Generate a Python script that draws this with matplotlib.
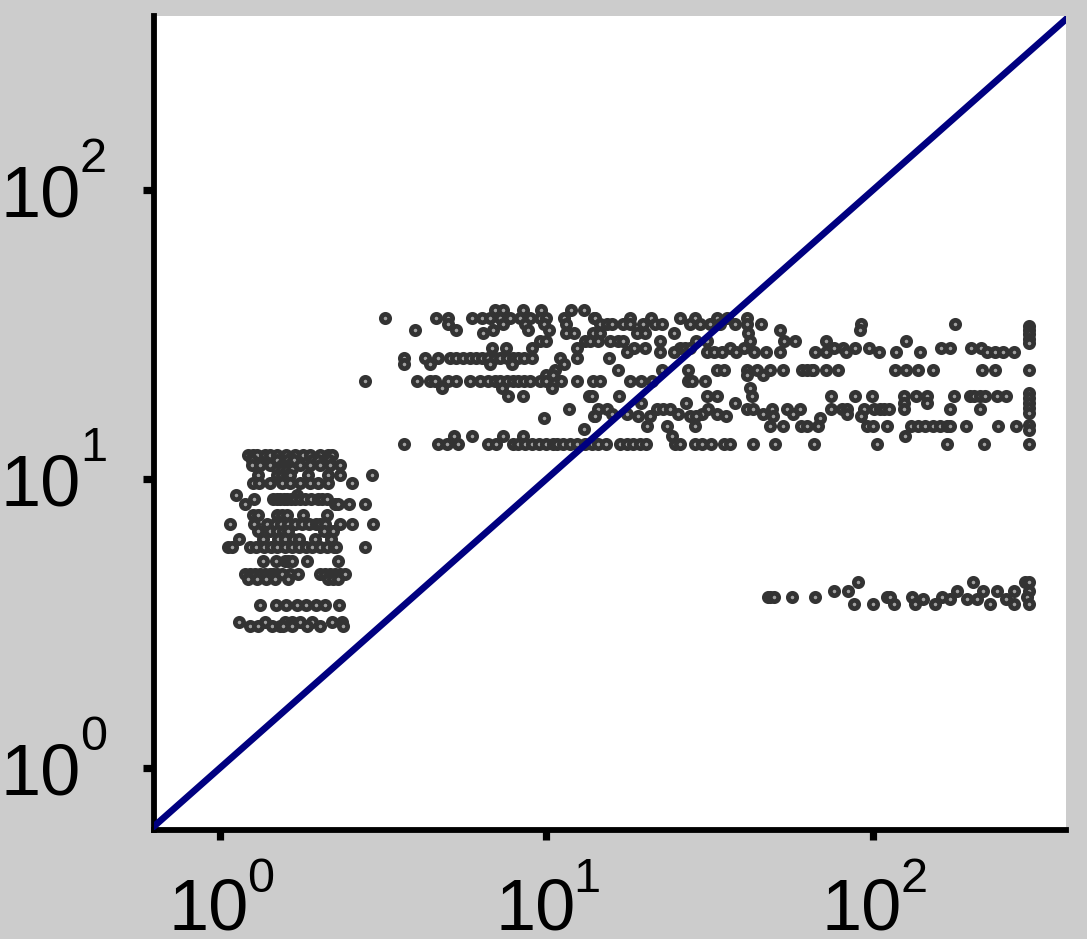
import matplotlib
matplotlib.use("Agg")
import matplotlib.pyplot as plt
from matplotlib.transforms import ScaledTranslation

plt.rcParams['font.family'] = ['Liberation Sans', 'DejaVu Sans']

diagonal = [0.6, 400]
tick_values = [1, 10, 100]
tick_base = ['10', '10', '10']
tick_exponents = ['0', '1', '2']

# low cluster: y level, then x values on that level
low_121 = [1.22, 1.26, 1.30, 1.37, 1.42, 1.49, 1.59, 1.70, 1.80, 1.89, 2.02, 2.14, 2.21]
low_116 = [1.25, 1.50, 1.60, 1.68, 1.92, 2.00, 2.15]
low_112 = [1.25, 1.33, 1.42, 1.55, 1.62, 1.76, 1.89, 2.02, 2.17, 2.33]
low_108 = [1.50, 1.55, 1.60, 1.66]
low_103 = [1.31, 1.50, 1.55, 1.60, 1.64, 1.86, 2.14, 2.33, 2.92]
low_97 = [1.26, 1.32, 1.42, 1.55, 1.64, 1.76, 1.89, 1.99, 2.14, 2.53]
low_88 = [1.12, 1.72]
low_85 = [1.27, 1.45, 1.49, 1.53, 1.57, 1.60, 1.65, 1.70, 1.76, 1.82, 1.90, 2.00, 2.06, 2.12]
low_82 = [1.19, 2.25, 2.30, 2.48, 2.78]
low_75 = [1.26, 1.31, 1.50, 1.55, 1.60, 1.80, 2.12]
low_70 = [1.07, 1.27, 1.39, 1.47, 1.54, 1.61, 1.70, 1.78, 1.87, 1.97, 2.02, 2.10, 2.33, 2.53, 2.94]
low_66 = [1.31, 1.42, 1.50, 1.56, 1.62, 2.08, 2.22]
low_62 = [1.14, 1.35, 1.51, 1.58, 1.67, 1.74, 1.96, 2.19]
low_58 = [1.06, 1.09, 1.24, 1.29, 1.36, 1.43, 1.50, 1.58, 1.66, 1.74, 1.83, 1.92, 2.02, 2.12, 2.23, 2.27, 2.78]
low_52 = [1.35, 1.48, 1.58, 1.62, 1.66, 1.85, 2.30]
low_47 = [1.19, 1.24, 1.28, 1.33, 1.37, 1.42, 1.45, 1.50, 1.55, 1.64, 1.73, 2.02, 2.10, 2.17, 2.25, 2.33, 2.41]
low_45 = [1.22, 1.30, 1.38, 1.47, 1.62, 2.14, 2.22, 2.30]
low_365 = [1.33, 1.48, 1.59, 1.72, 1.83, 1.97, 2.10, 2.31]
low_32 = [1.14, 1.37, 1.58, 1.66, 1.76, 1.91, 2.20, 2.36]
low_31 = [1.24, 1.31, 1.44, 1.53, 1.56, 1.66, 1.85, 2.02, 2.38]

# upper bands
up_384 = [6.96, 7.35, 8.48, 9.62, 11.9, 13.0]
up_362 = [3.2, 4.6, 5.0, 5.9, 6.35, 6.71, 7.2, 7.73, 8.3, 8.9, 9.55, 9.99, 11.3, 14.0, 14.1, 18.0, 20.9, 25.6, 28.5, 33.3, 35.7, 41.0]
up_344 = [5.0, 7.35, 8.6, 9.8, 11.5, 14.6, 15.3, 15.9, 17.1, 18.0, 19.7, 21.5, 22.6, 27.5, 29.5, 31.7, 34.0, 37.8, 41.0, 45.4, 178, 92]
up_328 = [3.95, 5.3, 6.85, 8.8, 10.2, 51.9, 91]
up_319 = [6.4, 11.5, 12.15, 13.9, 14.6, 18.9, 20.0, 24.5, 41.5]
up_300 = [9.55, 10.0, 13.1, 13.6, 14.4, 15.6, 16.5, 17.1, 22.3, 28.8, 31.0, 42.0, 53.5, 57.5, 72, 126]
up_285 = [6.8, 7.5, 9.0, 12.4, 18.6, 20.0, 25.6, 26.6, 27.5, 36.5, 40.4, 76, 81, 88, 97, 161, 172, 200, 214]
up_275 = [17.6, 22.3, 24.5, 31.0, 32.6, 34.5, 38.0, 43.2, 47.0, 52.0, 66.5, 72, 82.5, 104, 118, 139, 224, 237, 250, 270]
up_262 = [3.65, 4.25, 4.65, 5.05, 5.3, 5.55, 5.83, 6.1, 6.35, 6.6, 6.95, 7.2, 7.55, 7.9, 8.2, 8.55, 9.05, 11.0, 12.4, 15.5]
up_250 = [3.65, 4.4, 6.7, 7.85, 11.3]
up_238 = [10.6, 16.5, 22.6, 27.1, 33.3, 35.0, 41.0, 44.0, 48.4, 53.0, 60.5, 63, 65, 65.5, 72, 78, 117, 126, 137, 153, 215, 236, 300]
up_229 = [10.0, 10.5, 41.0, 46.0]
up_218 = [2.79, 4.0, 4.4, 4.55, 5.0, 5.3, 5.83, 6.26, 6.6, 6.95, 7.2, 7.55, 7.9, 8.2, 8.55, 8.9, 9.55, 10.0, 11.05, 12.4, 13.9, 14.6, 18.0, 19.5, 21.1, 27.1, 28.0, 30.6]
up_207 = [4.8, 7.3, 10.4, 42.0]
up_194 = [7.6, 8.5, 13.5, 13.8, 16.7, 31.0, 33.3, 42.5, 74.5, 88, 99, 124, 135, 146, 177, 198, 204, 212, 220, 240, 256]
up_183 = [19.5, 26.8, 37.7, 124, 146]
up_174 = [11.7, 14.4, 15.3, 21.8, 22.8, 23.9, 31.3, 41.0, 43.0, 49.0, 54.7, 59.8, 74.5, 80.5, 83, 94, 101, 105, 108, 112, 124, 172, 212]
up_168 = [15.9, 17.6, 25.2, 30.0, 33.3, 46.0, 57.0, 83]
up_165 = [14.0, 14.1, 19.0, 20.7, 27.5, 28.8, 35.5, 49.5, 92]
up_162 = [9.8, 69]
up_152 = [20.3, 23.4, 28.5, 48.4, 53.0, 60.0, 63, 68, 96, 100, 110, 131, 137, 144, 153, 160, 169, 172, 192, 241, 274]
up_149 = [13.0]
up_141 = [5.2, 5.9, 7.35, 8.5, 24.2, 125]
up_132 = [3.65, 4.65, 4.95, 5.35, 6.6, 7.0, 7.9, 8.2, 8.6, 9.05, 9.5, 9.95, 10.5, 10.8, 11.2, 11.8, 12.4, 13.1, 13.8, 14.4, 15.2, 16.8, 17.6, 18.4, 19.3, 20.2, 24.8, 25.6, 28.4, 30.0, 32.0, 35.0, 36.5, 43.0, 50.0, 66, 103, 168, 218, 300]

# values piled up at the x = 300 edge
edge_x = [300] * 12
edge_y = [33.9, 32.8, 31.8, 30.6, 29.6, 19.8, 19.0, 18.3, 17.6, 16.9, 15.4, 14.8]

# lowest right band
right_44 = [90, 203, 292, 300]
right_41 = [76, 84, 300, 181, 217, 239, 270]
right_39 = [47.6, 48.4, 49.6, 56.5, 66.5, 110, 113, 132, 163, 297]
right_385 = [142, 172, 194, 208, 256]
right_37 = [87.5, 100, 116, 134, 155, 228, 270, 300]

levels = [
    (12.1, low_121), (11.6, low_116), (11.2, low_112), (10.8, low_108), (10.3, low_103), (9.7, low_97),
    (8.8, low_88), (8.5, low_85), (8.2, low_82), (7.5, low_75), (7.0, low_70), (6.6, low_66), (6.2, low_62),
    (5.8, low_58), (5.2, low_52), (4.7, low_47), (4.5, low_45), (3.65, low_365), (3.2, low_32), (3.1, low_31),
    (38.4, up_384), (36.2, up_362), (34.4, up_344), (32.8, up_328), (31.9, up_319), (30.0, up_300),
    (28.5, up_285), (27.5, up_275), (26.2, up_262), (25.0, up_250), (23.8, up_238), (22.9, up_229),
    (21.8, up_218), (20.7, up_207), (19.4, up_194), (18.3, up_183), (17.4, up_174), (16.8, up_168),
    (16.5, up_165), (16.2, up_162), (15.2, up_152), (14.9, up_149), (14.1, up_141), (13.2, up_132),
    (4.4, right_44), (4.1, right_41), (3.9, right_39), (3.85, right_385), (3.7, right_37),
]

W, H = 1087, 939
fig = plt.figure(figsize=(W / 100, H / 100), dpi=100, facecolor='#cccccc')
ax = fig.add_axes([154 / W, 1 - 830 / H, (1066 - 154) / W, (830 - 16) / H], facecolor='white')
ax.set_xscale('log')
ax.set_yscale('log')

marker_style = dict(s=36, facecolor='#a0a0a0', edgecolor='#333333', linewidth=3.4, zorder=2)
for level, xs in levels:
    ax.scatter(xs, [level] * len(xs), **marker_style)
ax.scatter(edge_x, edge_y, **marker_style)

ax.plot(diagonal, diagonal, color='#000080', lw=4.8, zorder=3)

ax.set_xlim(0.628, 390)
ax.set_ylim(0.61, 400)
for side in ('top', 'right'):
    ax.spines[side].set_visible(False)
for side in ('left', 'bottom'):
    ax.spines[side].set_linewidth(4.2)
ax.set_xticks(tick_values, tick_base)
ax.set_yticks(tick_values, tick_base)
ax.minorticks_off()
ax.tick_params(axis='x', which='major', length=7, width=5.2, labelsize=52, pad=27.5)
ax.tick_params(axis='y', which='major', length=8, width=5.2, labelsize=52, pad=45)

shift_x = ScaledTranslation(-11 / 100, 0, fig.dpi_scale_trans)
shift_y = ScaledTranslation(0, -1 / 100, fig.dpi_scale_trans)
for lab in ax.get_xticklabels():
    lab.set_transform(lab.get_transform() + shift_x)
for lab in ax.get_yticklabels():
    lab.set_transform(lab.get_transform() + shift_y)

for value, exp in zip(tick_values, tick_exponents):
    ax.annotate(exp, xy=(value, 0), xycoords=ax.get_xaxis_transform(),
                xytext=(27, -62), textcoords='offset pixels',
                fontsize=35, ha='left', va='baseline', annotation_clip=False)
    ax.annotate(exp, xy=(0, value), xycoords=ax.get_yaxis_transform(),
                xytext=(-74, 18), textcoords='offset pixels',
                fontsize=35, ha='left', va='baseline', annotation_clip=False)

fig.savefig('out.png', dpi=100, facecolor=fig.get_facecolor())
